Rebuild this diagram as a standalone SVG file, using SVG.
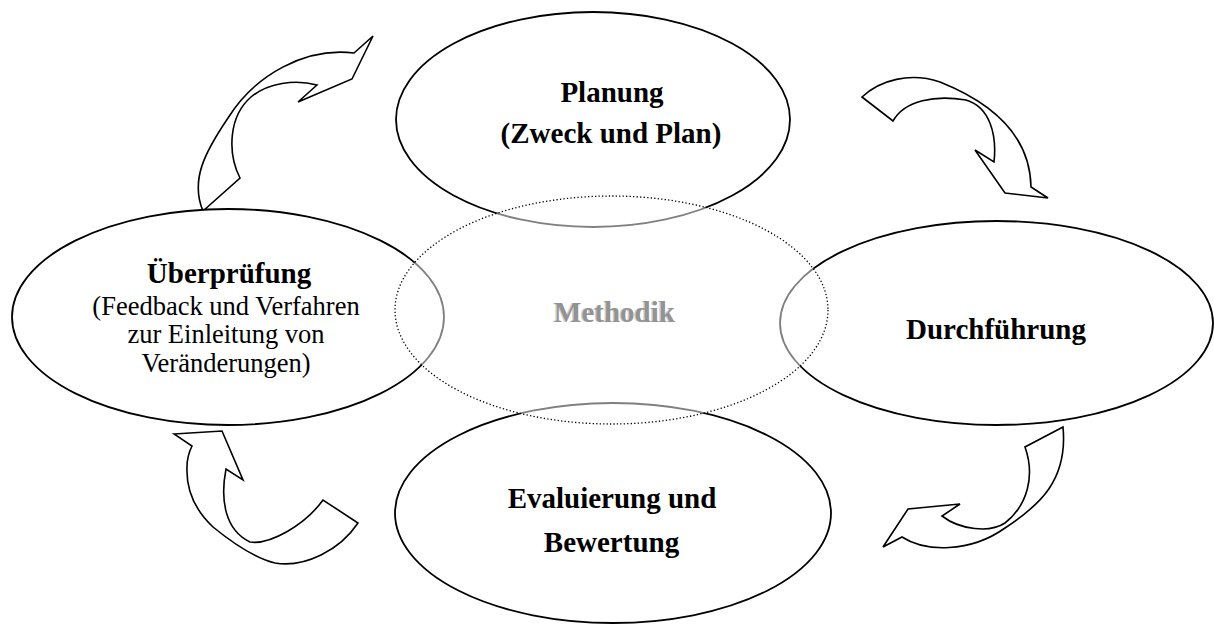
<svg xmlns="http://www.w3.org/2000/svg" width="1214" height="627" viewBox="0 0 1214 627">
<style>
.node{fill:#fff;stroke:#000;stroke-width:1.8}
.arrow{fill:#fff;stroke:#000;stroke-width:1.6;stroke-linejoin:miter}
.center{fill:#fff;fill-opacity:0.5;stroke:#000;stroke-width:1.3;stroke-dasharray:1.3 2.2}
.b{font-family:"Liberation Serif","Times New Roman",serif;font-weight:bold;font-size:29px;fill:#000;text-anchor:middle}
.r{font-family:"Liberation Serif","Times New Roman",serif;font-size:26.5px;fill:#000;text-anchor:middle}
.m{font-family:"Liberation Serif","Times New Roman",serif;font-weight:bold;font-size:29px;text-anchor:middle}
</style>
<rect width="1214" height="627" fill="#fff"/>
<g id="connectors">
<path class="arrow" d="M203,211 L240,178 C227,152 229,116 251,97 C268,83 295,79 317,85 L298,102 L352,79 L373,36 L354,53 C305,47 255,75 228,118 C205,152 190,180 203,211 Z"/>
<path class="arrow" d="M862,97 L893,121 C905,100 935,95 966,100 C990,107 997,135 994,162 L975,150 L1005,193 L1048,198 L1031,187 C1030,130 985,100 940,82 C910,72 880,80 862,97 Z"/>
<path class="arrow" d="M1063,427 L1025,447 C1035,475 1028,505 1005,523 C990,533 960,530 942,516 L960,504 L908,509 L883,547 L902,537 C925,552 970,553 1005,528 C1040,505 1068,480 1063,427 Z"/>
<path class="arrow" d="M174,434 L222,431 L243,480 L226,469 C220,500 225,530 250,542 C270,545 305,525 323,500 L358,523 C340,550 305,568 275,563 C255,558 235,545 213,527 C195,510 186,490 187,467 C187,458 189,452 192,446 Z"/>
</g>
<g id="planung">
<ellipse class="node" cx="593" cy="119.5" rx="197" ry="107.5"/>
<text class="b" x="612" y="102">Planung</text>
<text class="b" x="611" y="143">(Zweck und Plan)</text>
</g>
<g id="ueberpruefung">
<ellipse class="node" cx="228" cy="317" rx="216" ry="108"/>
<text class="b" x="229" y="283">Überprüfung</text>
<text class="r" x="226" y="315">(Feedback und Verfahren</text>
<text class="r" x="226" y="343">zur Einleitung von</text>
<text class="r" x="226" y="372">Veränderungen)</text>
</g>
<g id="durchfuehrung">
<ellipse class="node" cx="996.5" cy="323" rx="216.5" ry="102"/>
<text class="b" x="996" y="339">Durchführung</text>
</g>
<g id="evaluierung">
<ellipse class="node" cx="613" cy="513" rx="218" ry="110"/>
<text class="b" x="612" y="508">Evaluierung und</text>
<text class="b" x="611.5" y="552">Bewertung</text>
</g>
<g id="methodik">
<ellipse class="center" cx="611.5" cy="310" rx="216.5" ry="114"/>
<text class="m" x="613" y="321.5" fill="#d0d0d0">Methodik</text>
<text class="m" x="614.5" y="322" fill="#939393">Methodik</text>
</g>
</svg>
